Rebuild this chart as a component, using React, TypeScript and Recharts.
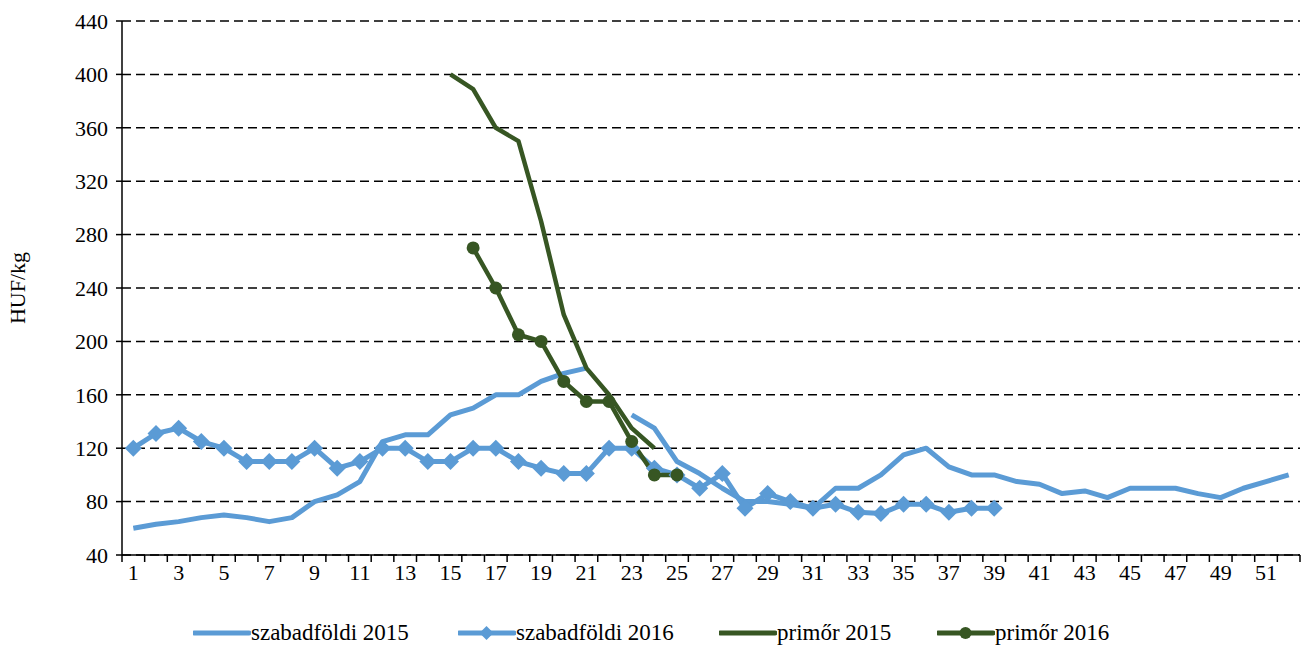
import React from 'react';
import { LineChart, Line, XAxis, YAxis, CartesianGrid, Legend } from 'recharts';

const weeks = Array.from({ length: 52 }, (_, i) => i + 1);

// szabadföldi 2015, weeks 1–52 (week 22 missing)
const szabad2015: (number | null)[] = [
  60, 63, 65, 68, 70, 68, 65, 68, 80, 85, 95, 125, 130, 130, 145, 150, 160, 160, 170, 176,
  180, null, 145, 135, 110, 101, 90, 80, 80, 78, 75, 90, 90, 100, 115, 120, 106, 100, 100, 95,
  93, 86, 88, 83, 90, 90, 90, 86, 83, 90, 95, 100,
];

// szabadföldi 2016, weeks 1–39
const szabad2016: number[] = [
  120, 131, 135, 125, 120, 110, 110, 110, 120, 105, 110, 120, 120, 110, 110, 120, 120, 110, 105, 101,
  101, 120, 120, 105, 100, 90, 101, 75, 86, 80, 75, 78, 72, 71, 78, 78, 72, 75, 75,
];

// primőr 2015, weeks 15–24
const primor2015Start = 15;
const primor2015: number[] = [400, 389, 360, 350, 290, 220, 180, 160, 135, 120];

// primőr 2016, weeks 16–25
const primor2016Start = 16;
const primor2016: number[] = [270, 240, 205, 200, 170, 155, 155, 125, 100, 100];

const yTicks = [40, 80, 120, 160, 200, 240, 280, 320, 360, 400, 440];

const BLUE = '#5B9BD5';
const GREEN = '#375623';
const FONT = '"Liberation Serif", "Times New Roman", serif';
const FS = 22;

const W = 1305;
const H = 648;
const Y_AXIS_W = 122;
const RIGHT = 5;
const BAND = (W - Y_AXIS_W - RIGHT) / weeks.length;

const data = weeks.map((w, i) => ({
  week: w,
  sz15: szabad2015[i] ?? null,
  sz16: szabad2016[i] ?? null,
  pr15: w >= primor2015Start ? primor2015[w - primor2015Start] ?? null : null,
  pr16: w >= primor2016Start ? primor2016[w - primor2016Start] ?? null : null,
}));

const boundaries = [...weeks.map((w) => w - 0.5), weeks.length + 0.5];

const XTick = (props: any) => {
  const { x, y, payload } = props;
  const wk = payload.value + 0.5;
  if (wk > weeks.length || wk % 2 === 0) return <g />;
  return (
    <text x={x + BAND / 2} y={y} dy={16} textAnchor="middle" fontFamily={FONT} fontSize={FS} fill="#000">
      {wk}
    </text>
  );
};

const Diamond = (props: any) => {
  const { cx, cy, index } = props;
  if (cx == null || cy == null || props.value == null) return <g key={`d-${index}`} />;
  const r = 8.5;
  return (
    <polygon
      key={`d-${index}`}
      points={`${cx},${cy - r} ${cx + r},${cy} ${cx},${cy + r} ${cx - r},${cy}`}
      fill={BLUE}
    />
  );
};

const Circle = (props: any) => {
  const { cx, cy, index } = props;
  if (cx == null || cy == null || props.value == null) return <g key={`c-${index}`} />;
  return <circle key={`c-${index}`} cx={cx} cy={cy} r={6.5} fill={GREEN} />;
};

const legendItems = [
  { name: 'szabadföldi 2015', color: BLUE, marker: 'none', left: 193 },
  { name: 'szabadföldi 2016', color: BLUE, marker: 'diamond', left: 458 },
  { name: 'primőr 2015', color: GREEN, marker: 'none', left: 719 },
  { name: 'primőr 2016', color: GREEN, marker: 'circle', left: 937 },
];

const LegendContent = () => (
  <div style={{ position: 'relative', width: W, height: 53 }}>
    {legendItems.map((it) => (
      <div
        key={it.name}
        style={{ position: 'absolute', left: it.left, top: 26, display: 'flex', alignItems: 'center', height: 24 }}
      >
        <svg width={58} height={20}>
          <line x1={1} y1={10} x2={56} y2={10} stroke={it.color} strokeWidth={5} strokeLinecap="round" />
          {it.marker === 'diamond' && <polygon points="28.5,3 35.5,10 28.5,17 21.5,10" fill={it.color} />}
          {it.marker === 'circle' && <circle cx={28.5} cy={10} r={6} fill={it.color} />}
        </svg>
        <span style={{ fontFamily: FONT, fontSize: 23, color: '#000', lineHeight: '24px' }}>{it.name}</span>
      </div>
    ))}
  </div>
);

export default function App() {
  return (
    <div style={{ position: 'absolute', left: 0, top: 0, background: '#fff' }}>
      <LineChart width={W} height={H} data={data} margin={{ top: 21, right: RIGHT, bottom: 0, left: 0 }}>
        <CartesianGrid vertical={false} stroke="#000" strokeDasharray="9 5" strokeWidth={1.5} />
        <XAxis
          dataKey="week"
          type="number"
          domain={[0.5, 52.5]}
          ticks={boundaries}
          interval={0}
          allowDataOverflow
          height={40}
          tick={<XTick />}
          tickSize={7}
          tickLine={{ stroke: '#000', strokeWidth: 1.5 }}
          axisLine={{ stroke: '#000', strokeWidth: 1.5 }}
        />
        <YAxis
          domain={[40, 440]}
          ticks={yTicks}
          interval={0}
          width={Y_AXIS_W}
          tickSize={6}
          tickMargin={8}
          tick={{ fontFamily: FONT, fontSize: FS, fill: '#000' }}
          tickLine={{ stroke: '#000', strokeWidth: 1.5 }}
          axisLine={{ stroke: '#000', strokeWidth: 1.5 }}
          label={{
            value: 'HUF/kg',
            angle: -90,
            position: 'insideLeft',
            offset: 17,
            style: { fontFamily: FONT, fontSize: FS, fill: '#000', textAnchor: 'middle' },
          }}
        />
        <Legend verticalAlign="bottom" height={53} content={<LegendContent />} />
        <Line
          dataKey="sz15"
          stroke={BLUE}
          strokeWidth={5}
          dot={false}
          activeDot={false}
          isAnimationActive={false}
          strokeLinejoin="round"
        />
        <Line
          dataKey="sz16"
          stroke={BLUE}
          strokeWidth={5}
          dot={<Diamond />}
          activeDot={false}
          isAnimationActive={false}
          strokeLinejoin="round"
        />
        <Line
          dataKey="pr15"
          stroke={GREEN}
          strokeWidth={4.5}
          dot={false}
          activeDot={false}
          isAnimationActive={false}
          strokeLinejoin="round"
        />
        <Line
          dataKey="pr16"
          stroke={GREEN}
          strokeWidth={4.5}
          dot={<Circle />}
          activeDot={false}
          isAnimationActive={false}
          strokeLinejoin="round"
        />
      </LineChart>
    </div>
  );
}
